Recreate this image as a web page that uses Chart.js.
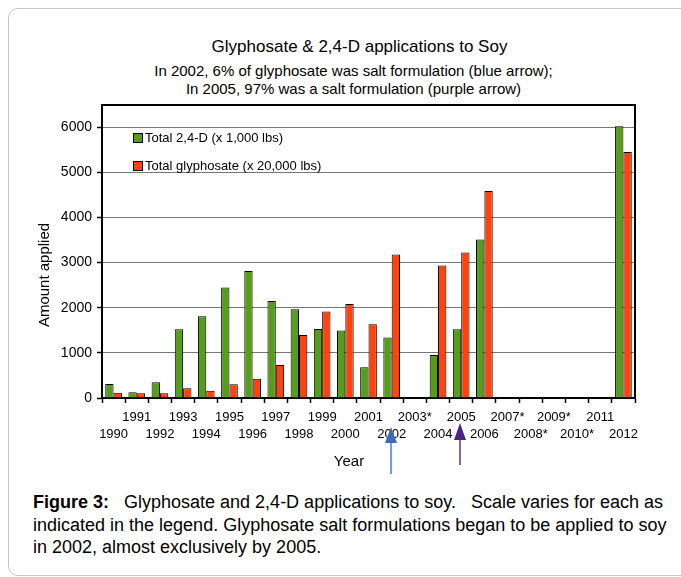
<!DOCTYPE html>
<html>
<head>
<meta charset="utf-8">
<script src="https://cdn.jsdelivr.net/npm/chart.js@4.4.0/dist/chart.umd.min.js"></script>
<style>
  body { margin: 0; background: #fff; font-family: "Liberation Sans", Arial, sans-serif; color: #000; }
  #frame { position: absolute; left: 8px; top: 8px; width: 720px; height: 566px; border: 1.5px solid #c4c4c4; border-radius: 10px; }
  #chartBox { position: absolute; left: 0; top: 0; width: 681px; height: 480px; }
  .t { position: absolute; left: 0; text-align: center; white-space: nowrap; }
  #title { top: 37px; width: 719px; font-size: 17px; line-height: 20px; }
  #sub { top: 62px; width: 707px; font-size: 15px; line-height: 18px; }
  #cap { position: absolute; left: 33px; top: 491px; font-size: 18px; line-height: 22.7px; white-space: nowrap; }
</style>
</head>
<body>
<div id="frame"></div>
<div class="t" id="title">Glyphosate &amp; 2,4-D applications to Soy</div>
<div class="t" id="sub">In 2002, 6% of glyphosate was salt formulation (blue arrow);<br>In 2005, 97% was a salt formulation (purple arrow)</div>
<div id="chartBox"><canvas id="chart" width="681" height="480"></canvas></div>
<div id="cap"><b>Figure 3:</b>&nbsp;&nbsp; Glyphosate and 2,4-D applications to soy.&nbsp;&nbsp; Scale varies for each as<br>indicated in the legend. Glyphosate salt formulations began to be applied to soy<br>in 2002, almost exclusively by 2005.</div>
<script>
// years on the x axis
const years = ['1990','1991','1992','1993','1994','1995','1996','1997','1998','1999','2000','2001',
  '2002','2003','2004','2005','2006','2007','2008','2009','2010','2011','2012'];
// tick labels (* = no data that year)
const tickLabels = ['1990','1991','1992','1993','1994','1995','1996','1997','1998','1999','2000','2001',
  '2002','2003*','2004','2005','2006','2007*','2008*','2009*','2010*','2011','2012'];
// y axis ticks
const yTicks = [0, 1000, 2000, 3000, 4000, 5000, 6000];

// Total 2,4-D (x 1,000 lbs)
const d24 = [310, 125, 347, 1522, 1811, 2446, 2815, 2150, 1966, 1530, 1493, 680,
  1338, null, 953, 1522, 3510, null, null, null, null, null, 6016];
// Total glyphosate (x 20,000 lbs)
const glyphosate = [118, 103, 103, 214, 162, 303, 428, 732, 1397, 1914, 2084, 1633,
  3178, null, 2934, 3222, 4582, null, null, null, null, null, 5447];

const seriesNames = ['Total 2,4-D (x 1,000 lbs)', 'Total glyphosate (x 20,000 lbs)'];
const seriesColors = ['#579d1c', '#ff420e'];

// arrows under the x axis
const arrows = [
  { year: '2002', head: '#3b6db4', shaft: '#6d9fd9', tip: 427, base: 443, tail: 474 },
  { year: '2005', head: '#4a2580', shaft: '#8667ab', tip: 423, base: 440, tail: 465 }
];

const FONT = '"Liberation Sans", Arial, sans-serif';

const extras = {
  id: 'extras',
  afterDraw(chart) {
    const { ctx, chartArea: a, scales: { x } } = chart;
    const L = Math.round(a.left), T = Math.round(a.top), R = Math.round(a.right), B = Math.round(a.bottom);
    ctx.save();
    // frame: left axis, top, right
    ctx.fillStyle = '#000';
    ctx.fillRect(L - 1, T - 1, 2, B - T + 2);
    ctx.fillRect(L - 1, T - 1, R - L + 2, 2);
    ctx.fillRect(R - 1, T - 1, 2, B - T + 2);

    // legend inside the plot
    ctx.font = '13px ' + FONT;
    ctx.textBaseline = 'middle';
    seriesNames.forEach((name, i) => {
      const y = Math.round(a.top + 33 + i * 28);
      ctx.fillStyle = '#000';
      ctx.fillRect(L + 31, y - 5, 10, 10);
      ctx.fillStyle = seriesColors[i];
      ctx.fillRect(L + 32, y - 4, 8, 8);
      ctx.fillStyle = '#000';
      ctx.fillText(name, L + 43, y);
    });

    // axis titles
    ctx.font = '15px ' + FONT;
    ctx.textAlign = 'center';
    ctx.fillText('Year', 349, 462);
    ctx.translate(45, 275);
    ctx.rotate(-Math.PI / 2);
    ctx.fillText('Amount applied', 0, 0);
    ctx.setTransform(1, 0, 0, 1, 0, 0);

    arrows.forEach(ar => {
      const cx = Math.round(x.getPixelForValue(years.indexOf(ar.year))) - 1;
      ctx.fillStyle = ar.shaft;
      ctx.fillRect(cx - 1, ar.base, 2, ar.tail - ar.base);
      ctx.fillStyle = ar.head;
      ctx.beginPath();
      ctx.moveTo(cx, ar.tip);
      ctx.lineTo(cx + 6, ar.base);
      ctx.lineTo(cx - 6, ar.base);
      ctx.closePath();
      ctx.fill();
    });
    ctx.restore();
  }
};

new Chart(document.getElementById('chart'), {
  type: 'bar',
  data: {
    labels: years,
    datasets: [
      { label: seriesNames[0], data: d24, backgroundColor: seriesColors[0], borderColor: '#000', borderWidth: 1 },
      { label: seriesNames[1], data: glyphosate, backgroundColor: seriesColors[1], borderColor: '#000', borderWidth: 1 }
    ]
  },
  options: {
    responsive: false,
    animation: false,
    devicePixelRatio: 1,
    categoryPercentage: 0.72,
    barPercentage: 1,
    layout: { padding: { left: 0, top: 104.5, right: 46, bottom: 0 } },
    plugins: { legend: { display: false }, title: { display: false }, tooltip: { enabled: false } },
    scales: {
      x: {
        offset: true,
        grid: { offset: true, drawOnChartArea: false, drawTicks: true, tickLength: 5, tickColor: '#000', tickWidth: 1.5 },
        border: { color: '#000', width: 2 },
        ticks: {
          autoSkip: false, maxRotation: 0, minRotation: 0, color: '#000', padding: 6,
          font: { family: FONT, size: 13, lineHeight: 1.3 },
          callback: (v, i) => i % 2 ? [tickLabels[i], ''] : ['', tickLabels[i]]
        },
        afterFit(s) { s.height = 82; }
      },
      y: {
        min: 0,
        max: 6500,
        afterBuildTicks(s) { s.ticks = yTicks.map(v => ({ value: v })); },
        ticks: { color: '#000', padding: 5, font: { family: FONT, size: 14 }, callback: v => String(v) },
        grid: { color: '#777', tickColor: '#000', tickLength: 5, lineWidth: 1, tickWidth: 1.5 },
        border: { color: '#000', width: 2 },
        afterFit(s) { s.width = 102; }
      }
    }
  },
  plugins: [extras]
});
</script>
</body>
</html>
